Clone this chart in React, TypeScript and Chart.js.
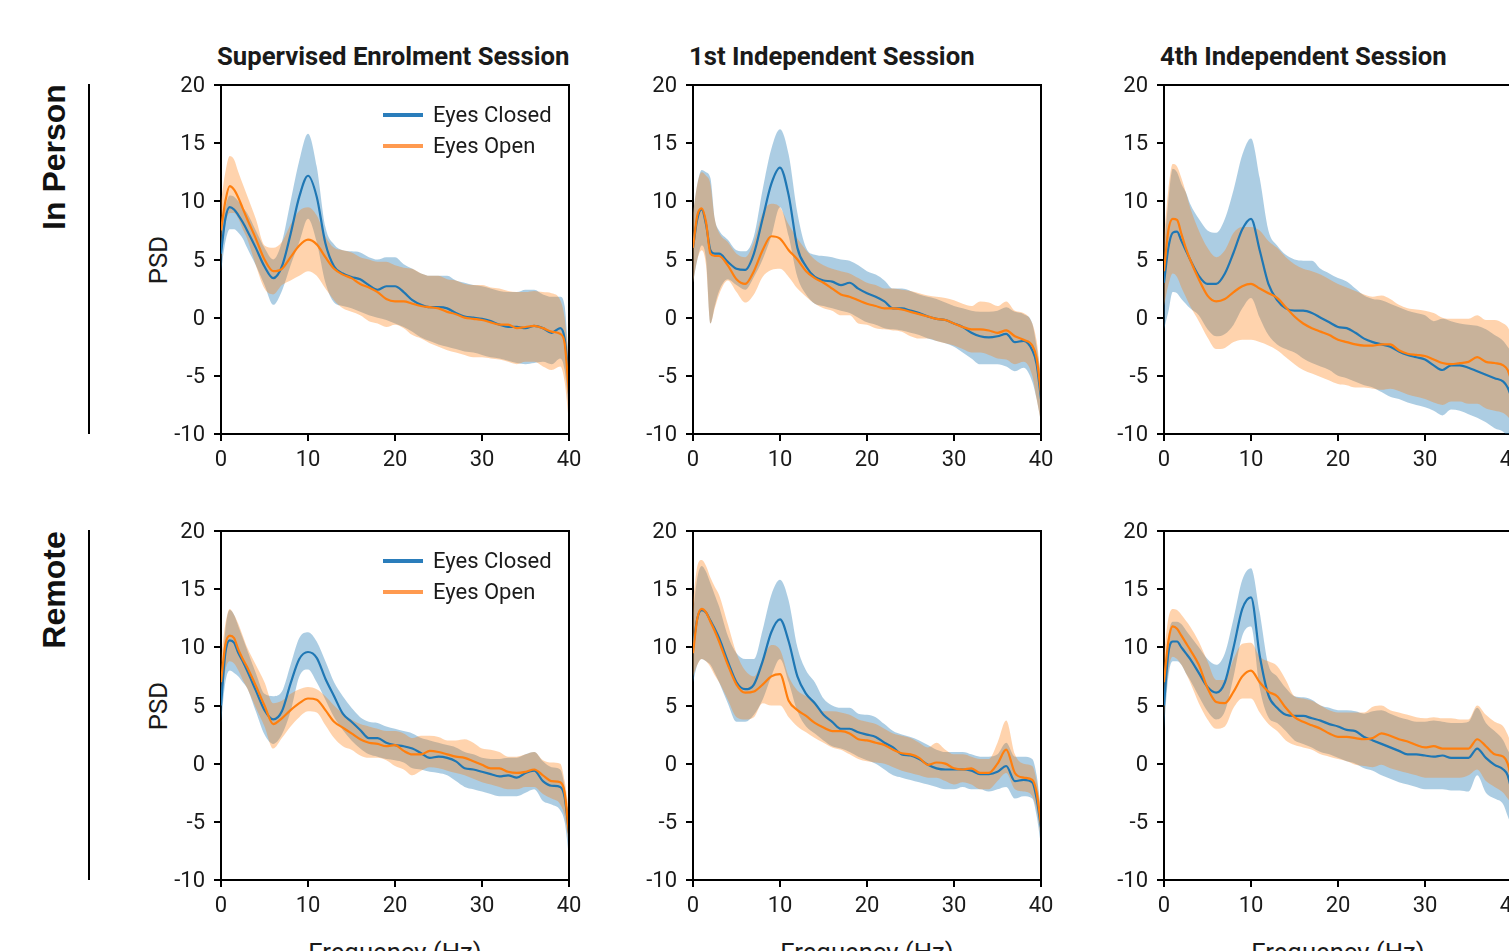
import React, { useEffect, useRef } from "react";
import { Chart, registerables } from "chart.js";

Chart.register(...registerables);

// ---------- data ----------
const freqs = [0, 0.5, 1, 1.5, 2, 2.5, 3, 4, 5, 6, 7, 8, 9, 10, 11, 12, 13, 14, 15, 16, 17, 18, 19, 20, 21, 22, 23, 24, 25, 26, 27, 28, 29, 30, 31, 32, 33, 34, 35, 36, 37, 38, 39, 39.5, 40];
const xTicks = [0, 10, 20, 30, 40];
const yTicks = [-10, -5, 0, 5, 10, 15, 20];
const rowLabels = ["In Person", "Remote"];
const colTitles = ["Supervised Enrolment Session", "1st Independent Session", "4th Independent Session"];
const seriesNames = ["Eyes Closed", "Eyes Open"];

// In Person - Supervised Enrolment
const ipSupEcMean = [5.5, 8.5, 9.5, 9.3, 8.8, 8.2, 7.5, 6.0, 4.4, 3.4, 4.4, 7.2, 10.4, 12.2, 10.4, 6.4, 4.4, 3.8, 3.5, 3.3, 2.8, 2.4, 2.7, 2.7, 2.2, 1.5, 1.1, 0.9, 0.9, 0.8, 0.4, 0.1, 0.0, -0.1, -0.3, -0.6, -0.8, -0.8, -0.9, -0.7, -0.9, -1.3, -0.9, -1.8, -5.5];
const ipSupEcHi = [7.5, 9.5, 10.5, 10.4, 10.0, 9.5, 9.0, 7.5, 6.0, 5.0, 6.5, 10.0, 13.5, 15.8, 13.0, 7.8, 6.3, 5.8, 5.7, 5.6, 5.2, 5.0, 5.2, 5.2, 4.6, 4.2, 3.8, 3.6, 3.6, 3.6, 3.2, 3.0, 2.8, 2.7, 2.5, 2.3, 2.2, 2.2, 2.4, 2.4, 2.0, 1.8, 1.8, 1.0, -4.0];
const ipSupEcLo = [4.0, 6.5, 7.6, 7.6, 7.3, 6.8, 6.0, 4.5, 2.8, 1.1, 2.3, 4.5, 6.5, 8.5, 6.5, 3.0, 1.3, 1.0, 0.8, 0.5, 0.2, 0.0, -0.2, -0.5, -0.8, -1.2, -1.7, -2.0, -2.3, -2.5, -2.7, -2.9, -3.0, -3.2, -3.4, -3.5, -3.7, -3.9, -4.0, -3.9, -3.8, -4.0, -3.5, -4.5, -8.0];
const ipSupEoMean = [7.5, 10.0, 11.3, 11.0, 10.3, 9.4, 8.5, 6.8, 5.0, 4.0, 4.2, 5.2, 6.2, 6.7, 6.3, 5.2, 4.2, 3.7, 3.4, 2.9, 2.6, 2.2, 1.6, 1.4, 1.4, 1.2, 1.0, 0.9, 0.8, 0.5, 0.3, 0.0, -0.1, -0.2, -0.4, -0.6, -0.6, -0.9, -0.8, -0.7, -0.9, -1.2, -1.4, -2.2, -6.5];
const ipSupEoHi = [10.0, 12.5, 13.9, 13.6, 12.5, 11.5, 10.5, 8.5, 6.2, 6.0, 6.5, 8.0, 9.2, 9.5, 8.8, 7.0, 6.0, 5.8, 5.6, 5.2, 5.0, 4.8, 4.8, 4.5, 4.3, 4.2, 3.8, 3.6, 3.6, 3.3, 3.2, 2.9, 2.8, 2.8, 2.6, 2.5, 2.3, 2.2, 2.2, 2.3, 2.2, 2.1, 1.5, 0.0, -4.0];
const ipSupEoLo = [5.0, 8.0, 9.0, 9.0, 8.5, 7.6, 6.8, 4.5, 2.5, 2.0, 2.8, 3.2, 3.6, 4.0, 3.6, 2.5, 1.5, 0.8, 0.5, 0.2, -0.3, -0.5, -0.8, -0.6, -0.9, -1.5, -1.8, -2.2, -2.5, -2.8, -3.0, -3.2, -3.4, -3.4, -3.5, -3.6, -3.8, -4.0, -3.8, -3.8, -4.2, -4.5, -4.2, -5.5, -9.0];

// In Person - 1st Independent
const ip1EcMean = [6.0, 8.5, 9.3, 8.0, 5.8, 5.5, 5.5, 4.8, 4.2, 4.1, 5.5, 8.5, 11.5, 12.9, 10.5, 6.0, 4.4, 3.5, 3.2, 3.1, 2.8, 3.0, 2.5, 2.1, 1.8, 1.4, 0.8, 0.8, 0.6, 0.4, 0.1, -0.1, -0.2, -0.5, -0.8, -1.3, -1.6, -1.7, -1.6, -1.4, -2.1, -2.0, -2.8, -4.0, -7.0];
const ip1EcHi = [9.0, 11.5, 12.7, 12.5, 12.0, 8.5, 7.5, 6.7, 5.8, 5.7, 7.0, 11.0, 14.5, 16.2, 14.0, 9.0, 6.0, 5.4, 5.3, 5.2, 5.0, 4.9, 4.5, 4.0, 3.7, 3.2, 2.5, 2.5, 2.3, 2.0, 1.8, 1.6, 1.3, 1.0, 0.8, 0.6, 0.5, 0.5, 0.6, 0.9, 0.5, 0.3, -0.5, -2.5, -5.0];
const ip1EcLo = [3.0, 5.0, 6.2, 5.0, -0.5, 1.0, 2.3, 3.3, 2.8, 2.4, 3.5, 5.0, 7.0, 9.5, 7.0, 3.5, 2.0, 1.2, 1.0, 0.8, 0.6, 0.4, 0.0, -0.4, -0.6, -0.9, -1.0, -1.1, -1.3, -1.5, -1.8, -2.0, -2.2, -2.5, -3.0, -3.5, -4.0, -4.0, -4.0, -4.2, -4.6, -4.3, -5.5, -7.0, -9.0];
const ip1EoMean = [6.0, 8.8, 9.4, 8.2, 5.5, 5.3, 5.3, 4.5, 3.3, 2.9, 4.0, 5.8, 7.0, 6.8, 5.8, 5.0, 4.0, 3.4, 3.0, 2.5, 2.0, 1.8, 1.5, 1.2, 1.0, 0.8, 0.8, 0.7, 0.5, 0.3, 0.1, -0.1, -0.2, -0.5, -0.8, -1.0, -1.0, -1.1, -1.3, -1.1, -1.6, -1.9, -2.4, -3.5, -6.5];
const ip1EoHi = [9.0, 11.5, 12.5, 12.2, 11.5, 8.5, 7.3, 6.5, 5.5, 5.2, 6.5, 9.0, 9.8, 9.5, 8.0, 6.8, 5.8, 5.0, 4.5, 4.2, 4.0, 3.8, 3.4, 3.0, 2.8, 2.5, 2.5, 2.4, 2.3, 2.1, 1.9, 1.8, 1.7, 1.5, 1.2, 1.0, 1.4, 1.3, 1.0, 1.4, 0.6, 0.4, -0.5, -2.0, -5.0];
const ip1EoLo = [3.0, 5.0, 5.8, 4.5, -0.5, 0.8, 2.0, 3.2, 2.2, 1.3, 2.0, 3.5, 4.1, 4.2, 3.5, 2.5, 1.8, 1.2, 0.8, 0.6, 0.2, 0.2, -0.5, -0.6, -0.9, -1.0, -1.1, -1.2, -1.6, -1.8, -1.8, -2.0, -2.2, -2.4, -2.7, -3.0, -3.0, -3.2, -3.5, -3.6, -4.0, -3.8, -5.0, -7.0, -9.0];

// In Person - 4th Independent
const ip4EcMean = [3.0, 6.0, 7.3, 7.4, 6.6, 5.8, 5.0, 3.6, 2.9, 2.9, 3.8, 5.6, 7.6, 8.5, 5.8, 2.9, 1.5, 0.8, 0.6, 0.6, 0.4, 0.0, -0.4, -0.8, -0.9, -1.3, -1.8, -2.1, -2.3, -2.5, -2.9, -3.2, -3.4, -3.6, -4.1, -4.5, -4.1, -4.1, -4.3, -4.6, -4.9, -5.2, -5.5, -6.0, -7.0];
const ip4EcHi = [6.0, 10.0, 12.8, 12.5, 11.5, 10.8, 9.8, 8.5, 7.5, 7.3, 8.5, 11.0, 14.0, 15.4, 12.0, 7.5, 6.2, 5.4, 5.0, 4.9, 4.9, 4.2, 3.8, 3.4, 3.1, 2.5, 1.9, 1.6, 1.5, 1.2, 0.9, 0.6, 0.4, 0.2, -0.3, -0.1, -0.3, -0.5, -0.6, -0.7, -1.0, -1.5, -2.0, -2.5, -3.0];
const ip4EcLo = [-1.0, 0.5, 2.2, 2.1, 1.6, 1.2, 0.8, 0.2, -1.0, -1.6, -1.4, -0.6, 0.8, 1.7, 0.0, -1.5, -2.3, -2.7, -3.0, -3.5, -3.9, -4.2, -4.5, -5.0, -5.2, -5.5, -5.8, -6.0, -6.4, -6.8, -7.0, -7.3, -7.5, -7.7, -8.0, -8.4, -7.9, -8.0, -8.3, -8.6, -9.0, -9.5, -9.8, -10.2, -10.5];
const ip4EoMean = [4.0, 7.5, 8.5, 8.4, 7.2, 6.0, 5.0, 3.3, 1.9, 1.4, 1.6, 2.2, 2.7, 2.9, 2.5, 2.1, 1.7, 0.9, 0.1, -0.5, -0.9, -1.2, -1.5, -1.9, -2.1, -2.3, -2.4, -2.4, -2.3, -2.3, -2.8, -3.1, -3.2, -3.3, -3.6, -3.9, -4.0, -3.9, -3.8, -3.4, -3.8, -3.9, -4.1, -4.5, -5.6];
const ip4EoHi = [7.0, 11.0, 13.2, 13.0, 12.0, 10.8, 9.5, 7.5, 6.0, 5.2, 5.8, 7.3, 7.8, 7.8, 7.5, 6.6, 6.0, 5.2, 4.6, 4.2, 4.0, 3.7, 3.3, 2.9, 2.6, 2.3, 2.0, 1.8, 1.9, 1.6, 1.1, 0.8, 0.7, 0.6, 0.4, 0.0, -0.1, -0.1, -0.1, 0.2, -0.2, -0.2, -0.5, -0.8, -1.6];
const ip4EoLo = [1.0, 2.8, 3.8, 3.5, 2.6, 1.8, 1.0, -0.3, -1.7, -2.7, -2.6, -2.1, -1.9, -1.9, -2.1, -2.4, -2.8, -3.4, -4.0, -4.5, -4.8, -5.1, -5.4, -5.7, -5.8, -6.0, -6.0, -6.1, -6.2, -6.1, -6.3, -6.6, -6.8, -7.0, -7.3, -7.5, -7.2, -7.2, -7.4, -7.4, -7.8, -8.0, -8.2, -8.5, -9.0];

// Remote - Supervised Enrolment
const rmSupEcMean = [5.0, 9.5, 10.6, 10.4, 9.5, 8.8, 8.0, 6.3, 4.6, 3.8, 4.5, 6.9, 9.0, 9.6, 9.1, 7.3, 5.8, 4.3, 3.6, 2.9, 2.2, 2.2, 1.8, 1.6, 1.5, 1.3, 0.9, 0.5, 0.6, 0.5, 0.2, -0.4, -0.5, -0.7, -0.9, -1.1, -1.0, -1.2, -0.8, -0.6, -1.5, -1.9, -2.0, -2.9, -6.0];
const rmSupEcHi = [6.5, 11.5, 13.2, 12.8, 11.8, 10.8, 9.8, 7.8, 6.0, 5.8, 6.2, 8.5, 10.8, 11.3, 10.5, 8.8, 7.0, 5.8, 4.8, 4.0, 3.6, 3.5, 3.2, 3.0, 2.8, 2.6, 2.2, 2.0, 1.8, 1.6, 1.4, 1.0, 0.8, 0.5, 0.4, 0.4, 0.5, 0.5, 0.8, 1.0, 0.2, -0.3, -0.5, -2.0, -5.0];
const rmSupEcLo = [3.5, 7.0, 8.0, 7.8, 7.5, 7.0, 6.5, 4.5, 2.5, 1.7, 2.5, 4.5, 7.5, 8.1, 7.0, 5.5, 4.0, 2.9, 2.0, 1.3, 0.8, 0.6, 0.4, 0.3, 0.1, -0.4, -0.5, -0.7, -0.8, -1.0, -1.5, -2.0, -2.2, -2.4, -2.6, -2.8, -2.8, -2.8, -2.5, -2.2, -3.2, -3.5, -4.0, -5.0, -8.0];
const rmSupEoMean = [7.0, 10.2, 11.0, 10.8, 9.8, 9.0, 8.3, 6.7, 5.0, 3.4, 3.9, 4.6, 5.2, 5.6, 5.5, 4.6, 3.6, 3.1, 2.6, 2.1, 1.8, 1.7, 1.5, 1.6, 1.1, 0.8, 0.8, 1.1, 1.0, 0.8, 0.6, 0.5, 0.2, -0.1, -0.4, -0.4, -0.7, -0.8, -0.7, -0.5, -1.0, -1.5, -1.6, -2.5, -6.0];
const rmSupEoHi = [9.0, 12.0, 13.3, 12.8, 12.0, 11.0, 10.0, 8.5, 7.0, 5.2, 5.4, 6.0, 6.4, 6.6, 6.4, 5.8, 5.0, 4.3, 3.8, 3.4, 3.2, 3.0, 2.8, 2.8, 2.6, 2.2, 2.4, 2.4, 2.3, 2.0, 2.0, 2.1, 1.8, 1.3, 1.2, 1.0, 0.6, 0.6, 0.8, 1.0, 0.3, 0.1, 0.0, -1.5, -4.0];
const rmSupEoLo = [5.0, 8.0, 8.8, 8.6, 8.0, 7.2, 6.5, 4.8, 3.2, 1.3, 2.2, 3.2, 4.0, 4.5, 4.4, 3.3, 2.2, 1.5, 1.2, 0.7, 0.5, 0.5, 0.3, -0.2, -0.5, -1.0, -0.6, -0.3, -0.4, -0.6, -0.8, -1.0, -1.3, -1.6, -1.8, -2.0, -2.2, -2.2, -2.0, -2.0, -2.6, -3.0, -3.5, -4.5, -7.0];

// Remote - 1st Independent
const rm1EcMean = [10.0, 12.5, 13.2, 13.0, 12.3, 11.6, 10.8, 8.8, 7.0, 6.4, 6.8, 8.8, 11.3, 12.4, 10.5, 7.5, 6.0, 5.2, 4.2, 3.6, 3.0, 3.0, 2.7, 2.5, 2.3, 1.8, 1.4, 0.8, 0.7, 0.4, -0.1, -0.4, -0.5, -0.5, -0.5, -0.6, -0.9, -0.9, -0.7, -0.2, -1.5, -1.4, -1.6, -3.0, -5.5];
const rm1EcHi = [13.0, 16.0, 17.0, 16.5, 15.5, 14.5, 13.5, 11.0, 9.5, 9.0, 9.0, 11.5, 14.5, 15.8, 14.0, 10.0, 8.0, 7.0, 5.6, 5.0, 4.8, 4.8, 4.3, 4.2, 4.0, 3.4, 2.8, 2.5, 2.3, 2.0, 1.6, 1.2, 1.0, 1.0, 1.0, 0.8, 0.6, 0.6, 0.8, 1.8, 0.6, 0.6, 0.4, -1.0, -4.0];
const rm1EcLo = [7.0, 8.5, 9.0, 8.8, 8.5, 7.8, 7.0, 5.2, 3.6, 3.6, 4.2, 5.5, 7.5, 9.0, 7.0, 4.5, 3.2, 2.6, 2.0, 1.5, 1.3, 1.0, 0.6, 0.3, 0.0, -0.5, -1.0, -1.2, -1.4, -1.6, -1.8, -2.0, -2.2, -2.2, -2.0, -2.2, -2.2, -2.4, -2.2, -2.0, -3.0, -2.8, -3.0, -4.5, -7.0];
const rm1EoMean = [9.5, 12.5, 13.3, 13.0, 12.2, 11.4, 10.5, 8.5, 6.8, 6.1, 6.2, 6.8, 7.5, 7.7, 5.4, 4.6, 4.1, 3.5, 3.1, 2.8, 2.8, 2.6, 2.1, 2.0, 1.8, 1.6, 1.2, 0.9, 0.8, 0.5, -0.1, 0.1, 0.0, -0.4, -0.5, -0.4, -0.8, -0.8, 0.0, 1.2, -0.8, -1.2, -1.4, -2.5, -5.2];
const rm1EoHi = [14.0, 17.0, 17.5, 17.0, 16.0, 15.2, 14.5, 12.0, 9.5, 8.0, 7.5, 9.0, 10.2, 9.8, 7.5, 6.3, 5.8, 5.2, 4.5, 4.5, 4.4, 4.2, 3.8, 3.6, 3.4, 3.0, 2.6, 2.4, 2.2, 1.8, 1.4, 1.8, 1.2, 0.8, 0.8, 0.6, 0.4, 0.4, 1.8, 3.7, 0.8, 0.0, -0.2, -1.5, -4.0];
const rm1EoLo = [7.5, 8.5, 9.0, 8.8, 8.3, 7.6, 7.0, 5.5, 4.0, 3.8, 4.0, 5.2, 5.0, 5.0, 4.0, 3.2, 2.7, 2.2, 1.8, 1.4, 1.2, 0.8, 0.4, 0.2, 0.1, 0.0, -0.3, -0.6, -0.8, -1.0, -1.2, -1.2, -1.5, -1.8, -1.6, -1.8, -2.2, -2.2, -1.5, -0.8, -2.2, -2.4, -2.8, -4.0, -6.5];

// Remote - 4th Independent
const rm4EcMean = [5.0, 9.5, 10.5, 10.5, 10.0, 9.5, 9.0, 7.8, 6.6, 6.1, 7.0, 10.0, 13.3, 14.3, 9.3, 5.9, 4.8, 4.2, 4.1, 4.1, 3.9, 3.7, 3.4, 3.2, 2.9, 2.8, 2.3, 2.0, 1.7, 1.4, 1.1, 0.8, 0.8, 0.7, 0.6, 0.7, 0.5, 0.5, 0.5, 1.3, 0.5, -0.1, -0.5, -1.0, -2.5];
const rm4EcHi = [7.0, 11.0, 12.2, 12.2, 12.0, 11.5, 11.0, 10.0, 9.0, 8.5, 9.5, 12.5, 15.8, 16.8, 13.0, 8.5, 7.5, 6.5, 5.8, 5.7, 5.5, 5.0, 4.8, 4.6, 4.6, 4.5, 4.3, 4.5, 4.6, 4.3, 4.0, 3.8, 3.6, 3.6, 3.7, 3.6, 3.5, 3.5, 3.6, 4.8, 3.5, 2.8, 2.0, 1.2, 0.5];
const rm4EcLo = [3.0, 7.5, 8.8, 8.8, 8.5, 7.8, 7.2, 5.8, 4.5, 3.8, 4.5, 7.5, 11.0, 11.8, 6.5, 4.0, 3.5, 2.8, 2.0, 1.7, 1.4, 1.0, 0.8, 0.5, 0.2, 0.0, -0.4, -0.6, -1.0, -1.3, -1.6, -1.8, -2.0, -2.2, -2.2, -2.2, -2.3, -2.3, -2.4, -1.0, -2.5, -3.0, -3.5, -4.5, -5.5];
const rm4EoMean = [7.0, 10.5, 11.8, 11.6, 11.0, 10.4, 9.8, 8.5, 6.5, 5.3, 5.2, 6.2, 7.5, 8.0, 7.0, 6.2, 5.8, 4.8, 4.0, 3.6, 3.3, 3.0, 2.6, 2.3, 2.3, 2.2, 2.1, 2.2, 2.6, 2.4, 2.1, 1.9, 1.6, 1.4, 1.5, 1.3, 1.3, 1.3, 1.3, 2.1, 1.5, 0.8, 0.6, 0.0, -1.5];
const rm4EoHi = [9.5, 12.5, 13.3, 13.2, 12.8, 12.3, 11.8, 10.5, 8.8, 7.2, 7.2, 9.0, 10.3, 10.4, 9.2, 8.8, 8.4, 7.2, 5.8, 5.6, 5.4, 5.0, 4.6, 4.4, 4.4, 4.4, 4.4, 4.9, 5.0, 4.6, 4.4, 4.2, 4.0, 3.9, 4.0, 3.9, 3.9, 3.8, 3.8, 5.0, 4.2, 3.6, 3.2, 2.5, 1.5];
const rm4EoLo = [4.0, 8.0, 9.2, 9.0, 8.5, 7.8, 7.0, 5.2, 3.8, 3.0, 3.2, 4.8, 5.6, 5.6, 4.4, 3.4, 2.8, 2.0, 1.6, 1.4, 1.2, 0.8, 0.6, 0.4, 0.2, -0.1, -0.2, -0.3, -0.1, -0.4, -0.6, -0.8, -1.0, -1.2, -1.2, -1.2, -1.2, -1.2, -1.0, -0.5, -1.5, -2.0, -2.5, -3.0, -3.5];

// ---------- style ----------
const EC_LINE = "#1f77b4";
const EO_LINE = "#ff7f0e";
const EC_FILL = "rgba(31,119,180,0.37)";
const EO_FILL = "rgba(255,127,14,0.34)";
const EC_LEGEND = "#2a7dbb";
const EO_LEGEND = "#ff9a50";
const TEXT = "#1a1a1a";

const PLOT_W = 348;
const PLOT_H = 349;
const Y_AXIS_W = 70;
const X_AXIS_H = 40;
const COL_LEFT = [221, 693, 1164];
const ROW_TOP = [85, 531];

const framePlugin = {
  id: "frame",
  afterDraw(chart: any) {
    const { ctx, chartArea: a } = chart;
    ctx.save();
    ctx.strokeStyle = "#000";
    ctx.lineWidth = 2;
    ctx.lineCap = "square";
    ctx.beginPath();
    ctx.moveTo(a.left, a.top);
    ctx.lineTo(a.right, a.top);
    ctx.lineTo(a.right, a.bottom);
    ctx.stroke();
    ctx.restore();
  },
};

type PanelProps = {
  left: number;
  top: number;
  ec: number[][];
  eo: number[][];
};

function Panel({ left, top, ec, eo }: PanelProps) {
  const ref = useRef<HTMLCanvasElement>(null);
  useEffect(() => {
    const canvas = ref.current as HTMLCanvasElement;
    const pts = (arr: number[]) => freqs.map((f, i) => ({ x: f, y: arr[i] }));
    const base = {
      pointRadius: 0,
      pointHoverRadius: 0,
      cubicInterpolationMode: "monotone" as const,
    };
    const band = {
      ...base,
      borderWidth: 0,
      borderColor: "rgba(0,0,0,0)",
    };
    const font = { family: "Roboto", size: 22 };
    const gridOpts = {
      display: true,
      drawOnChartArea: false,
      drawTicks: true,
      tickLength: 7,
      color: "#000",
      lineWidth: 2,
    };
    const chart = new Chart(canvas, {
      type: "line",
      data: {
        datasets: [
          { ...band, label: "ecHi", data: pts(ec[1]), fill: false, order: 3 },
          { ...band, label: "ecLo", data: pts(ec[2]), fill: 0, backgroundColor: EC_FILL, order: 3 },
          { ...band, label: "eoHi", data: pts(eo[1]), fill: false, order: 2 },
          { ...band, label: "eoLo", data: pts(eo[2]), fill: 2, backgroundColor: EO_FILL, order: 2 },
          { ...base, label: seriesNames[0], data: pts(ec[0]), borderColor: EC_LINE, borderWidth: 2.2, fill: false, order: 1 },
          { ...base, label: seriesNames[1], data: pts(eo[0]), borderColor: EO_LINE, borderWidth: 2.2, fill: false, order: 0 },
        ],
      },
      options: {
        responsive: false,
        maintainAspectRatio: false,
        animation: false,
        devicePixelRatio: 1,
        events: [],
        layout: { padding: { left: 0, top: 30, right: 24, bottom: 0 } },
        plugins: {
          legend: { display: false },
          tooltip: { enabled: false },
          title: { display: false },
        },
        scales: {
          x: {
            type: "linear",
            min: 0,
            max: 40,
            afterBuildTicks: (s: any) => {
              s.ticks = xTicks.map((v) => ({ value: v }));
            },
            afterFit: (s: any) => {
              s.height = X_AXIS_H;
            },
            ticks: {
              font,
              color: TEXT,
              padding: 6,
              maxRotation: 0,
              autoSkip: false,
              callback: (v: any) => String(v),
            },
            grid: gridOpts,
            border: { display: true, color: "#000", width: 2 },
          },
          y: {
            type: "linear",
            min: -10,
            max: 20,
            afterBuildTicks: (s: any) => {
              s.ticks = yTicks.map((v) => ({ value: v }));
            },
            afterFit: (s: any) => {
              s.width = Y_AXIS_W;
            },
            ticks: {
              font,
              color: TEXT,
              padding: 9,
              labelOffset: 1.5,
              autoSkip: false,
              callback: (v: any) => String(v),
            },
            grid: gridOpts,
            border: { display: true, color: "#000", width: 2 },
          },
        },
      },
      plugins: [framePlugin],
    } as any);
    // size the canvas so that the plotting area is exactly PLOT_W x PLOT_H,
    // then place it so the plotting area sits at (left, top)
    let a = chart.chartArea;
    const w = Math.round(chart.width + (PLOT_W - (a.right - a.left)));
    const h = Math.round(chart.height + (PLOT_H - (a.bottom - a.top)));
    chart.resize(w, h);
    a = chart.chartArea;
    canvas.style.left = `${left - a.left}px`;
    canvas.style.top = `${top - a.top}px`;
    return () => chart.destroy();
  }, []);
  return (
    <canvas
      ref={ref}
      width={460}
      height={440}
      style={{ position: "absolute", left: left - Y_AXIS_W, top: top - 30 }}
    />
  );
}

function Legend({ top }: { top: number }) {
  const rows = [
    { name: seriesNames[0], color: EC_LEGEND, y: top + 30 },
    { name: seriesNames[1], color: EO_LEGEND, y: top + 61 },
  ];
  return (
    <>
      {rows.map((r) => (
        <React.Fragment key={r.name}>
          <div style={{ position: "absolute", left: 383, top: r.y - 2, width: 40, height: 4, background: r.color }} />
          <div
            style={{
              position: "absolute",
              left: 433,
              top: r.y - 11,
              font: "22px Roboto",
              lineHeight: "22px",
              color: TEXT,
              whiteSpace: "nowrap",
            }}
          >
            {r.name}
          </div>
        </React.Fragment>
      ))}
    </>
  );
}

const panelData = [
  [
    { ec: [ipSupEcMean, ipSupEcHi, ipSupEcLo], eo: [ipSupEoMean, ipSupEoHi, ipSupEoLo] },
    { ec: [ip1EcMean, ip1EcHi, ip1EcLo], eo: [ip1EoMean, ip1EoHi, ip1EoLo] },
    { ec: [ip4EcMean, ip4EcHi, ip4EcLo], eo: [ip4EoMean, ip4EoHi, ip4EoLo] },
  ],
  [
    { ec: [rmSupEcMean, rmSupEcHi, rmSupEcLo], eo: [rmSupEoMean, rmSupEoHi, rmSupEoLo] },
    { ec: [rm1EcMean, rm1EcHi, rm1EcLo], eo: [rm1EoMean, rm1EoHi, rm1EoLo] },
    { ec: [rm4EcMean, rm4EcHi, rm4EcLo], eo: [rm4EoMean, rm4EoHi, rm4EoLo] },
  ],
];

const rowLabelCenterY = [157, 590];

export default function App() {
  return (
    <div
      style={{
        position: "fixed",
        left: 0,
        top: 0,
        width: 1509,
        height: 951,
        overflow: "hidden",
        background: "#fff",
      }}
    >
      {colTitles.map((t, c) => (
        <div
          key={t}
          style={{
            position: "absolute",
            left: COL_LEFT[c] - 4,
            top: 42.5,
            font: "bold 25.7px Roboto",
            lineHeight: "26px",
            color: TEXT,
            whiteSpace: "nowrap",
          }}
        >
          {t}
        </div>
      ))}
      {rowLabels.map((lbl, r) => (
        <React.Fragment key={lbl}>
          <div
            style={{
              position: "absolute",
              left: 54,
              top: rowLabelCenterY[r],
              transform: "translate(-50%, -50%) rotate(-90deg)",
              font: "bold 32px 'Liberation Sans'",
              lineHeight: "32px",
              color: "#111",
              whiteSpace: "nowrap",
            }}
          >
            {lbl}
          </div>
          <div
            style={{
              position: "absolute",
              left: 87.5,
              top: ROW_TOP[r] - 1,
              width: 2,
              height: PLOT_H + 1,
              background: "#000",
            }}
          />
          <div
            style={{
              position: "absolute",
              left: 158,
              top: ROW_TOP[r] + PLOT_H / 2,
              transform: "translate(-50%, -50%) rotate(-90deg)",
              font: "25.7px Roboto",
              lineHeight: "26px",
              color: TEXT,
              whiteSpace: "nowrap",
            }}
          >
            PSD
          </div>
        </React.Fragment>
      ))}
      {panelData.map((row, r) =>
        row.map((p, c) => (
          <Panel key={`${r}-${c}`} left={COL_LEFT[c]} top={ROW_TOP[r]} ec={p.ec} eo={p.eo} />
        ))
      )}
      <Legend top={ROW_TOP[0]} />
      <Legend top={ROW_TOP[1]} />
      {COL_LEFT.map((l, c) => (
        <div
          key={`xl-${c}`}
          style={{
            position: "absolute",
            left: l + PLOT_W / 2,
            top: 938.5,
            transform: "translateX(-50%)",
            font: "25.7px Roboto",
            lineHeight: "26px",
            color: TEXT,
            whiteSpace: "nowrap",
          }}
        >
          Frequency (Hz)
        </div>
      ))}
    </div>
  );
}
